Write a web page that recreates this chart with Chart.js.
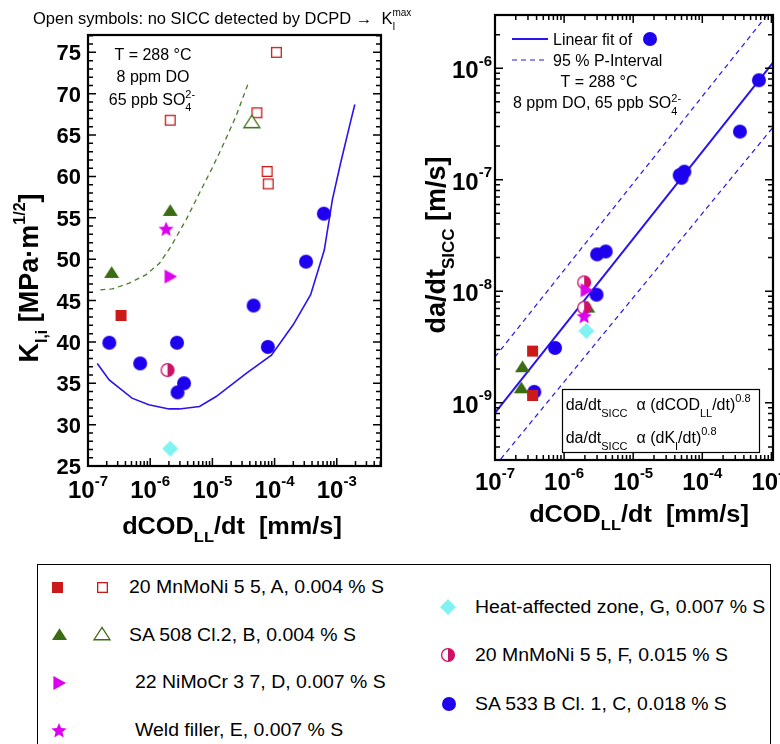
<!DOCTYPE html>
<html>
<head>
<meta charset="utf-8">
<script src="https://cdn.jsdelivr.net/npm/chart.js@4.4.1/dist/chart.umd.min.js"></script>
<style>
  body { margin: 0; background: #fff; width: 780px; height: 744px; position: relative; overflow: hidden;
         font-family: "Liberation Sans", Arial, sans-serif; }
  #left { position: absolute; left: 0; top: 0; }
  #right { position: absolute; left: 400px; top: 0; }
  #legend { position: absolute; left: 37px; top: 564px; width: 734px; height: 220px; border: 1px solid #000; box-sizing: border-box; }
  .lg-mark { position: absolute; }
  .lg-text { position: absolute; font-size: 18px; line-height: 20px; white-space: nowrap;
             transform: scaleX(1.08); transform-origin: 0 50%; color: #000; }
</style>
</head>
<body>
<canvas id="left" width="420" height="560"></canvas>
<canvas id="right" width="380" height="560"></canvas>
<div id="legend"></div>

<script>
// ---- left panel : K_I,i  vs  dCOD_LL/dt [mm/s] ----
var kA_rate = [3.4e-7];
var kA_K = [43.2];
var kAopen_rate = [1.07e-4, 2.1e-6, 5.2e-5, 7.6e-5, 7.9e-5];
var kAopen_K = [75.0, 66.8, 67.7, 60.6, 59.1];
var kB_rate = [2.4e-7, 2.1e-6];
var kB_K = [48.4, 55.9];
var kBopen_rate = [4.3e-5];
var kBopen_K = [66.6];
var kD_rate = [2.1e-6];
var kD_K = [47.9];
var kE_rate = [1.8e-6];
var kE_K = [53.7];
var kF_rate = [1.9e-6];
var kF_K = [36.6];
var kG_rate = [2.1e-6];
var kG_K = [27.1];
var kC_rate = [6.2e-4, 3.2e-4, 4.6e-5, 2.2e-7, 2.7e-6, 7.8e-5, 6.9e-7, 3.5e-6, 2.75e-6];
var kC_K = [55.5, 49.7, 44.4, 39.9, 39.9, 39.4, 37.4, 35.0, 33.9];
// lower bound curve (solid blue) and dashed green curve
var curveC_rate = [1.41e-7, 2.19e-7, 5.1e-7, 9.5e-7, 2.0e-6, 2.95e-6, 6.2e-6, 1.15e-5, 3.5e-5, 8.9e-5, 2.0e-4, 3.8e-4, 6.3e-4, 8.5e-4, 1.15e-3, 1.7e-3, 1.95e-3];
var curveC_K = [37.4, 35.4, 33.2, 32.4, 31.9, 31.9, 32.2, 33.4, 36.2, 38.4, 42.1, 45.7, 51.1, 57.2, 61.6, 66.9, 68.7];
var curveB_rate = [1.58e-7, 2.45e-7, 4.6e-7, 8.5e-7, 1.41e-6, 2.14e-6, 3.8e-6, 6.2e-6, 1.02e-5, 1.55e-5, 2.4e-5, 3.7e-5];
var curveB_K = [46.3, 46.4, 47.1, 48.1, 49.5, 51.5, 54.8, 58.0, 61.2, 64.1, 67.3, 71.1];
var kTicks = [25, 30, 35, 40, 45, 50, 55, 60, 65, 70, 75];
var rateDecades = [-7, -6, -5, -4, -3];

// ---- right panel : da/dt_SICC [m/s] vs dCOD_LL/dt ----
var vA_rate = [3.5e-7, 3.5e-7];
var vA_v = [2.9e-9, 1.16e-9];
var vB_rate = [2.2e-6, 2.5e-7, 2.4e-7];
var vB_v = [7.2e-9, 2.1e-9, 1.36e-9];
var vD_rate = [2.1e-6];
var vD_v = [1.02e-8];
var vE_rate = [1.95e-6];
var vE_v = [6.0e-9];
var vF_rate = [1.95e-6, 1.95e-6];
var vF_v = [1.2e-8, 7.1e-9];
var vG_rate = [2.1e-6];
var vG_v = [4.4e-9];
var vC_rate = [6.6e-4, 3.5e-4, 4.7e-5, 5.5e-5, 5.0e-5, 4.0e-6, 3.0e-6, 2.95e-6, 7.4e-7, 3.7e-7];
var vC_v = [7.8e-7, 2.7e-7, 1.1e-7, 1.18e-7, 1.04e-7, 2.27e-8, 2.14e-8, 9.3e-9, 3.1e-9, 1.25e-9];
var fit_rate = [1e-7, 1.055e-3];
var fit_v = [8.1e-10, 1.12e-6];
var upper_rate = [1e-7, 1.055e-3];
var upper_v = [2.57e-9, 3.5e-6];
var lower_rate = [1e-7, 1.055e-3];
var lower_v = [2.7e-10, 2.95e-7];
var vDecades = [-9, -8, -7, -6];

// ---- legend ----
var legendNames = ['20 MnMoNi 5 5, A, 0.004 % S', 'SA 508 Cl.2, B, 0.004 % S', '22 NiMoCr 3 7, D, 0.007 % S',
  'Weld filler, E, 0.007 % S', 'Heat-affected zone, G, 0.007 % S', '20 MnMoNi 5 5, F, 0.015 % S', 'SA 533 B Cl. 1, C, 0.018 % S'];

var RED = '#cc1a1a', GREEN = '#3b6b12', MAG = '#dd00f0', CYAN = '#80f2f2', CRIM = '#cc1166', BLUE = '#1e00ee';
var FAM = '"Liberation Sans", Arial, sans-serif';

// marker drawn into a small canvas, used as pointStyle
function marker(kind, color, size) {
  var s = size + 4, c = document.createElement('canvas');
  c.width = s; c.height = s;
  var g = c.getContext('2d'), m = s / 2, r = size / 2;
  g.fillStyle = color; g.strokeStyle = color; g.lineWidth = 1.3;
  if (kind === 'circle') { g.beginPath(); g.arc(m, m, r, 0, Math.PI * 2); g.fill(); }
  else if (kind === 'square') { g.fillRect(m - r, m - r, size, size); }
  else if (kind === 'osquare') { g.fillStyle = '#fff'; g.fillRect(m - r, m - r, size, size); g.strokeRect(m - r + 0.65, m - r + 0.65, size - 1.3, size - 1.3); }
  else if (kind === 'tri' || kind === 'otri') {
    g.beginPath(); g.moveTo(m, m - r * 0.82); g.lineTo(m + r, m + r * 0.72); g.lineTo(m - r, m + r * 0.72); g.closePath();
    if (kind === 'tri') g.fill(); else { g.fillStyle = '#fff'; g.fill(); g.stroke(); }
  }
  else if (kind === 'rtri') { g.beginPath(); g.moveTo(m - r * 0.8, m - r); g.lineTo(m + r, m); g.lineTo(m - r * 0.8, m + r); g.closePath(); g.fill(); }
  else if (kind === 'diamond') { g.beginPath(); g.moveTo(m, m - r); g.lineTo(m + r, m); g.lineTo(m, m + r); g.lineTo(m - r, m); g.closePath(); g.fill(); }
  else if (kind === 'star') {
    g.beginPath();
    for (var i = 0; i < 10; i++) {
      var a = -Math.PI / 2 + i * Math.PI / 5, rr = i % 2 ? r * 0.45 : r;
      g.lineTo(m + rr * Math.cos(a), m + 1 + rr * Math.sin(a));
    }
    g.closePath(); g.fill();
  }
  else if (kind === 'half') {
    g.beginPath(); g.arc(m, m, r - 0.6, 0, Math.PI * 2); g.fillStyle = '#fff'; g.fill();
    g.beginPath(); g.arc(m, m, r - 0.6, -Math.PI / 2, Math.PI / 2); g.closePath(); g.fillStyle = color; g.fill();
    g.beginPath(); g.arc(m, m, r - 0.6, 0, Math.PI * 2); g.stroke();
  }
  return c;
}

function pts(xs, ys) { return xs.map(function (x, i) { return { x: x, y: ys[i] }; }); }

function dots(xs, ys, kind, color, size) {
  return { data: pts(xs, ys), pointStyle: marker(kind, color, size), pointRadius: 6, showLine: false };
}
function curve(xs, ys, color, width, dash) {
  return { data: pts(xs, ys), showLine: true, pointRadius: 0, borderColor: color, borderWidth: width, borderDash: dash || [], tension: 0, fill: false };
}

// text with sub/superscripts
function rich(ctx, x, y, parts, size, o) {
  o = o || {};
  var w8 = o.bold ? 'bold ' : '';
  var small = o.small || Math.round(size * 0.65);
  var items = [], w = 0;
  parts.forEach(function (p) {
    if (typeof p === 'string') {
      ctx.font = w8 + size + 'px ' + FAM;
      items.push({ t: p, dx: w, dy: 0, s: size });
      w += ctx.measureText(p).width;
    } else {
      ctx.font = w8 + small + 'px ' + FAM;
      var ws = p.sub ? ctx.measureText(p.sub).width : 0, wp = p.sup ? ctx.measureText(p.sup).width : 0;
      if (p.sub) items.push({ t: p.sub, dx: w, dy: size * (o.subDy || 0.35), s: small });
      if (p.sup) items.push({ t: p.sup, dx: w, dy: -size * (o.supDy || 0.45), s: small });
      w += Math.max(ws, wp);
    }
  });
  var x0 = o.align === 'center' ? -w / 2 : (o.align === 'right' ? -w : 0);
  ctx.save();
  ctx.translate(x, y);
  if (o.rot) ctx.rotate(o.rot);
  ctx.scale(o.sx || 1, 1);
  ctx.textAlign = 'left'; ctx.textBaseline = 'alphabetic'; ctx.fillStyle = o.color || '#000';
  items.forEach(function (it) { ctx.font = w8 + it.s + 'px ' + FAM; ctx.fillText(it.t, x0 + it.dx, it.dy); });
  ctx.restore();
}

function tickList(scale, isLog) {
  var out = [];
  if (isLog) {
    var e0 = Math.floor(Math.log10(scale.min)), e1 = Math.ceil(Math.log10(scale.max));
    for (var e = e0; e <= e1; e++) for (var k = 1; k < 10; k++) {
      var v = k * Math.pow(10, e);
      if (v >= scale.min * 0.999 && v <= scale.max * 1.001) out.push({ p: scale.getPixelForValue(v), major: k === 1 });
    }
  } else {
    for (var v2 = Math.ceil(scale.min); v2 <= scale.max; v2++) out.push({ p: scale.getPixelForValue(v2), major: v2 % 5 === 0 });
  }
  return out;
}

function drawAxes(chart, isLogY, topTicks) {
  var ctx = chart.ctx, a = chart.chartArea;
  ctx.save();
  ctx.strokeStyle = '#000'; ctx.lineWidth = 1.5;
  ctx.beginPath();
  tickList(chart.scales.x, true).forEach(function (t) {
    var len = t.major ? 8 : 5;
    ctx.moveTo(t.p, a.bottom); ctx.lineTo(t.p, a.bottom - len);
    if (topTicks) { ctx.moveTo(t.p, a.top); ctx.lineTo(t.p, a.top + len); }
  });
  tickList(chart.scales.y, isLogY).forEach(function (t) {
    var len = t.major ? 8 : 5;
    ctx.moveTo(a.left, t.p); ctx.lineTo(a.left + len, t.p);
    ctx.moveTo(a.right, t.p); ctx.lineTo(a.right - len, t.p);
  });
  ctx.stroke();
  ctx.lineWidth = 2.2;
  ctx.strokeRect(a.left, a.top, a.right - a.left, a.bottom - a.top);
  ctx.restore();
}

var baseOpts = function (pad, x, y) {
  return {
    responsive: false, animation: false, events: [],
    layout: { padding: pad },
    plugins: { legend: { display: false }, tooltip: { enabled: false } },
    scales: { x: x, y: y }
  };
};

// ---------------- LEFT CHART ----------------
var leftDeco = {
  id: 'leftDeco',
  afterDraw: function (chart) {
    var ctx = chart.ctx, sx = chart.scales.x, sy = chart.scales.y;
    drawAxes(chart, false, false);
    kTicks.forEach(function (v) {
      rich(ctx, 81, sy.getPixelForValue(v) + 8, [String(v)], 22, { bold: true, align: 'right' });
    });
    rateDecades.forEach(function (e) {
      rich(ctx, sx.getPixelForValue(Math.pow(10, e)), 498, ['10', { sup: String(e) }], 24, { bold: true, align: 'center', small: 15, supDy: 0.52 });
    });
    rich(ctx, 232, 534, ['dCOD', { sub: 'LL' }, '/dt  [mm/s]'], 23, { bold: true, align: 'center', small: 15, sx: 1.1 });
    rich(ctx, 38, 278, ['K', { sub: 'I,i' }, ' [MPa\u00b7m', { sup: '1/2' }, ']'], 27, { bold: true, align: 'center', small: 16, rot: -Math.PI / 2, supDy: 0.5 });
    rich(ctx, 33, 24, ['Open symbols: no SICC detected by DCPD \u2192  K', { sub: 'I', sup: 'max' }], 16.5, { small: 10, subDy: 0.35, supDy: 0.5 });
    rich(ctx, 153, 60, ['T = 288 \u00b0C'], 16, { align: 'center' });
    rich(ctx, 153, 81.7, ['8 ppm DO'], 16, { align: 'center' });
    rich(ctx, 152, 105, ['65 ppb SO', { sub: '4', sup: '2-' }], 16, { align: 'center', small: 11, subDy: 0.4, supDy: 0.42 });
  }
};

new Chart(document.getElementById('left'), {
  type: 'scatter',
  data: {
    datasets: [
      dots(kE_rate, kE_K, 'star', MAG, 16),
      dots(kD_rate, kD_K, 'rtri', MAG, 14),
      dots(kF_rate, kF_K, 'half', CRIM, 14),
      dots(kG_rate, kG_K, 'diamond', CYAN, 16),
      dots(kB_rate, kB_K, 'tri', GREEN, 15),
      dots(kBopen_rate, kBopen_K, 'otri', GREEN, 16),
      dots(kA_rate, kA_K, 'square', RED, 11),
      dots(kAopen_rate, kAopen_K, 'osquare', RED, 11),
      dots(kC_rate, kC_K, 'circle', BLUE, 14),
      curve(curveC_rate, curveC_K, '#2a14ee', 1.6),
      curve(curveB_rate, curveB_K, '#4a7a2a', 1.3, [5, 4])
    ]
  },
  options: baseOpts({ left: 88, top: 35, right: 39, bottom: 94 },
    { type: 'logarithmic', display: false, min: 1e-7, max: 5.14e-3 },
    { type: 'linear', display: false, min: 25, max: 77.1 }),
  plugins: [leftDeco]
});

// ---------------- RIGHT CHART ----------------
var legendDot = marker('circle', BLUE, 14);
var rightDeco = {
  id: 'rightDeco',
  afterDraw: function (chart) {
    var ctx = chart.ctx, sx = chart.scales.x, sy = chart.scales.y;
    drawAxes(chart, true, true);
    vDecades.forEach(function (e) {
      rich(ctx, 92, sy.getPixelForValue(Math.pow(10, e)) + 10, ['10', { sup: String(e) }], 24, { bold: true, align: 'right', small: 15, supDy: 0.52 });
    });
    rateDecades.forEach(function (e) {
      rich(ctx, sx.getPixelForValue(Math.pow(10, e)), 490, ['10', { sup: String(e) }], 24, { bold: true, align: 'center', small: 15, supDy: 0.52 });
    });
    rich(ctx, 239, 522, ['dCOD', { sub: 'LL' }, '/dt  [mm/s]'], 23, { bold: true, align: 'center', small: 15, sx: 1.1 });
    rich(ctx, 45, 245, ['da/dt', { sub: 'SICC' }, ' [m/s]'], 27, { bold: true, align: 'center', small: 17, rot: -Math.PI / 2 });

    // in-plot key
    ctx.save();
    ctx.strokeStyle = '#2a14ee';
    ctx.lineWidth = 2; ctx.beginPath(); ctx.moveTo(112, 39); ctx.lineTo(148, 39); ctx.stroke();
    ctx.lineWidth = 1.2; ctx.setLineDash([5, 4]); ctx.beginPath(); ctx.moveTo(112, 60); ctx.lineTo(148, 60); ctx.stroke();
    ctx.restore();
    rich(ctx, 153, 45, ['Linear fit of'], 16);
    ctx.drawImage(legendDot, 250 - legendDot.width / 2, 39 - legendDot.height / 2);
    rich(ctx, 153, 65.7, ['95 % P-Interval'], 16);
    rich(ctx, 199, 86.7, ['T = 288 \u00b0C'], 16, { align: 'center' });
    rich(ctx, 113, 108.3, ['8 ppm DO, 65 ppb SO', { sub: '4', sup: '2-' }], 16, { small: 11, subDy: 0.4, supDy: 0.42 });

    // power law box
    ctx.save();
    ctx.fillStyle = '#fff'; ctx.fillRect(162.5, 389.5, 197, 63);
    ctx.strokeStyle = '#000'; ctx.lineWidth = 1.2; ctx.strokeRect(162.5, 389.5, 197, 63);
    ctx.restore();
    rich(ctx, 165.7, 410, ['da/dt', { sub: 'SICC' }, '  \u03b1 (dCOD', { sub: 'LL' }, '/dt)', { sup: '0.8' }], 16, { small: 11, subDy: 0.42, supDy: 0.5 });
    rich(ctx, 165.7, 443.3, ['da/dt', { sub: 'SICC' }, '  \u03b1 (dK', { sub: 'I' }, '/dt)', { sup: '0.8' }], 16, { small: 11, subDy: 0.42, supDy: 0.5 });
  }
};

new Chart(document.getElementById('right'), {
  type: 'scatter',
  data: {
    datasets: [
      dots(vE_rate, vE_v, 'star', MAG, 16),
      dots(vD_rate, vD_v, 'rtri', MAG, 14),
      dots(vF_rate, vF_v, 'half', CRIM, 14),
      dots(vB_rate, vB_v, 'tri', GREEN, 15),
      dots(vG_rate, vG_v, 'diamond', CYAN, 16),
      dots(vA_rate, vA_v, 'square', RED, 11),
      dots(vC_rate, vC_v, 'circle', BLUE, 14),
      curve(fit_rate, fit_v, '#2a14ee', 2),
      curve(upper_rate, upper_v, '#2a14ee', 1.2, [5, 4]),
      curve(lower_rate, lower_v, '#2a14ee', 1.2, [5, 4])
    ]
  },
  options: baseOpts({ left: 95, top: 15, right: 3, bottom: 100 },
    { type: 'logarithmic', display: false, min: 1e-7, max: 1.055e-3 },
    { type: 'logarithmic', display: false, min: 3.06e-10, max: 3.0e-6 }),
  plugins: [rightDeco]
});

// ---------------- LEGEND (below) ----------------
var legendMarks = [
  [['square', RED, 11, 57, 587], ['osquare', RED, 11, 102, 587]],
  [['tri', GREEN, 15, 59, 634], ['otri', GREEN, 16, 102, 634]],
  [['rtri', MAG, 14, 59, 683]],
  [['star', MAG, 16, 59, 730]],
  [['diamond', CYAN, 16, 448, 607]],
  [['half', CRIM, 14, 448, 655]],
  [['circle', BLUE, 14, 449, 704]]
];
var legendTextPos = [[129, 587], [129, 635], [135, 682], [135, 730], [475, 607], [475, 655], [475, 704]];

legendNames.forEach(function (name, i) {
  legendMarks[i].forEach(function (mk) {
    var c = marker(mk[0], mk[1], mk[2]);
    c.className = 'lg-mark';
    c.style.left = (mk[3] - c.width / 2) + 'px';
    c.style.top = (mk[4] - c.height / 2) + 'px';
    document.body.appendChild(c);
  });
  var d = document.createElement('div');
  d.className = 'lg-text';
  d.textContent = name;
  d.style.left = legendTextPos[i][0] + 'px';
  d.style.top = (legendTextPos[i][1] - 10) + 'px';
  document.body.appendChild(d);
});
</script>
</body>
</html>
